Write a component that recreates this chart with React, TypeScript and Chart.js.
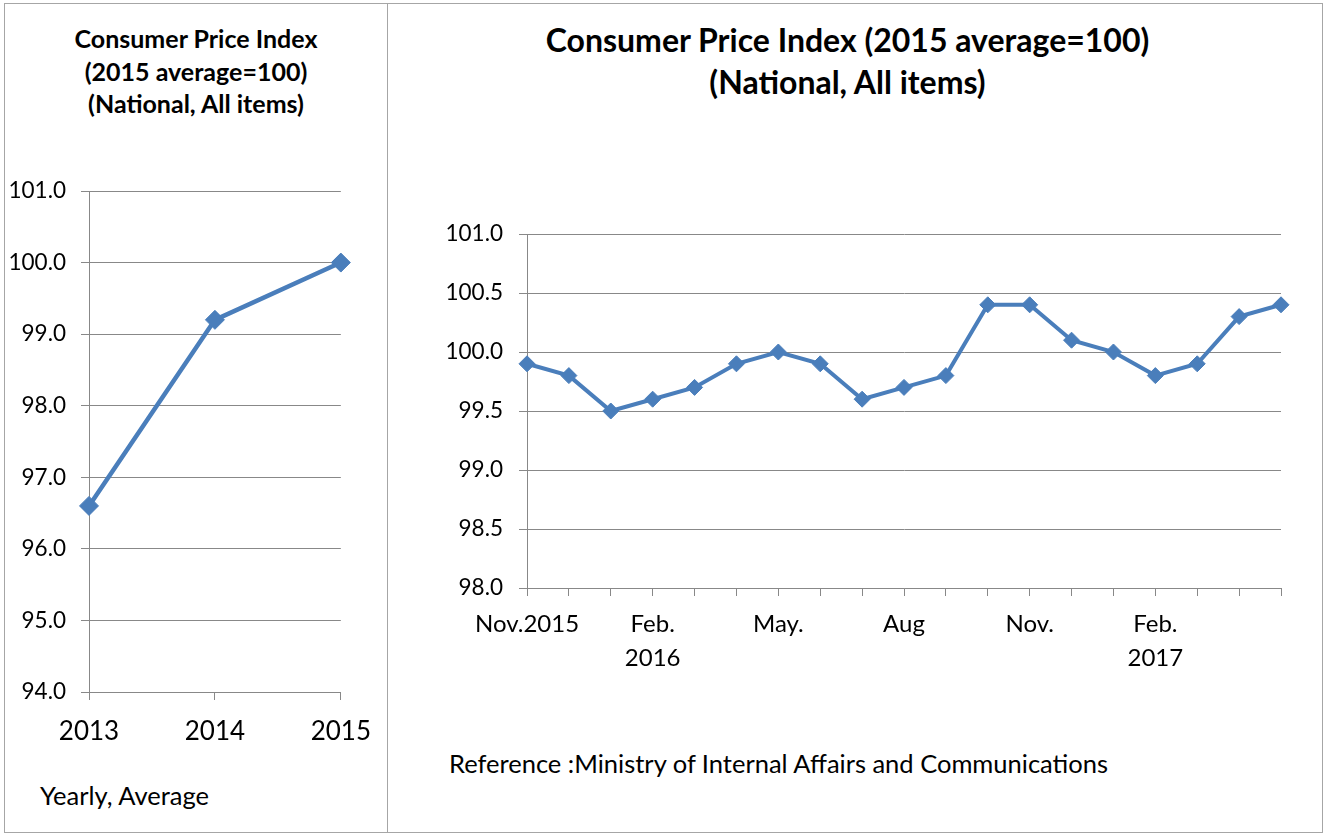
import React, { useEffect, useRef } from "react";
import { Chart, registerables } from "chart.js";

Chart.register(...registerables);

// ---- Data ----
const yearLabels: string[] = ["2013", "2014", "2015"];
const yearValues: number[] = [96.6, 99.2, 100.0];

const monthLabels: (string | string[])[] = [
  "Nov.2015", "", "", ["Feb.", "2016"], "", "", "May.", "", "", "Aug", "", "",
  "Nov.", "", "", ["Feb.", "2017"], "", "", "",
];
const monthValues: number[] = [
  99.9, 99.8, 99.5, 99.6, 99.7, 99.9, 100.0, 99.9, 99.6, 99.7, 99.8, 100.4,
  100.4, 100.1, 100.0, 99.8, 99.9, 100.3, 100.4,
];

const leftTitle = ["Consumer Price Index", "(2015 average=100)", "(National, All items)"];
const rightTitle = ["Consumer Price Index (2015 average=100)", "(National, All items)"];
const leftNote = "Yearly, Average";
const rightNote = "Reference :Ministry of Internal Affairs and Communications";

const BLUE = "#4a7ebb";
const GRID = "#888888";
const FONT = "Lato";

function LineChart(props: {
  labels: (string | string[])[];
  values: number[];
  min: number;
  max: number;
  step: number;
  width: number;
  height: number;
  yWidth: number;
  xHeight: number;
  padding: { left: number; right: number; top: number; bottom: number };
  yFont: number;
  xFont: number;
  xLine: number;
  xPad: number;
  yPad: number;
  radius: number;
  lineWidth: number;
  style: React.CSSProperties;
}) {
  const ref = useRef<HTMLCanvasElement | null>(null);
  useEffect(() => {
    if (!ref.current) return;
    const chart = new Chart(ref.current, {
      type: "line",
      data: {
        labels: props.labels as any,
        datasets: [
          {
            data: props.values,
            borderColor: BLUE,
            backgroundColor: BLUE,
            borderWidth: props.lineWidth,
            pointStyle: "rectRot",
            pointRadius: props.radius,
            pointBorderWidth: 1,
            pointBackgroundColor: BLUE,
            pointBorderColor: BLUE,
            tension: 0,
          },
        ],
      },
      options: {
        responsive: false,
        animation: false,
        layout: { padding: props.padding },
        plugins: {
          legend: { display: false },
          tooltip: { enabled: false },
          title: { display: false },
        },
        scales: {
          x: {
            type: "category",
            offset: false,
            grid: {
              display: true,
              drawOnChartArea: false,
              drawTicks: true,
              tickLength: 8,
              color: GRID,
              lineWidth: 1,
            },
            border: { color: GRID, width: 1 },
            ticks: {
              autoSkip: false,
              maxRotation: 0,
              minRotation: 0,
              color: "#000",
              padding: props.xPad,
              font: { family: FONT, size: props.xFont, lineHeight: props.xLine },
            },
            afterFit: (s: any) => {
              s.height = props.xHeight;
            },
          },
          y: {
            min: props.min,
            max: props.max,
            grid: {
              color: GRID,
              lineWidth: 1,
              drawTicks: true,
              tickLength: 8,
            },
            border: { color: GRID, width: 1 },
            ticks: {
              stepSize: props.step,
              color: "#000",
              padding: props.yPad,
              font: { family: FONT, size: props.yFont },
              callback: (v: any) => Number(v).toFixed(1),
            },
            afterFit: (s: any) => {
              s.width = props.yWidth;
            },
          },
        },
      },
    });
    return () => chart.destroy();
  }, []);
  return <canvas ref={ref} width={props.width} height={props.height} style={props.style} />;
}

export default function App() {
  const textBase: React.CSSProperties = {
    position: "absolute",
    fontFamily: FONT,
    color: "#000",
    whiteSpace: "nowrap",
  };
  return (
    <div
      style={{
        position: "fixed",
        left: 0,
        top: 0,
        width: 1325,
        height: 834,
        background: "#fff",
        overflow: "hidden",
      }}
    >
      <div
        style={{
          position: "absolute",
          left: 4,
          top: 3,
          width: 384,
          height: 830,
          border: "1px solid #a6a6a6",
          boxSizing: "border-box",
        }}
      />
      <div
        style={{
          position: "absolute",
          left: 387,
          top: 3,
          width: 936,
          height: 830,
          border: "1px solid #a6a6a6",
          boxSizing: "border-box",
        }}
      />
      <div
        style={{
          ...textBase,
          left: 4,
          width: 384,
          top: 22,
          textAlign: "center",
          fontWeight: 700,
          fontSize: 25,
          lineHeight: "32.5px",
        }}
      >
        {leftTitle.map((t, i) => (
          <div key={i}>{t}</div>
        ))}
      </div>
      <div
        style={{
          ...textBase,
          left: 547 - 300,
          width: 1201,
          top: 19,
          textAlign: "center",
          fontWeight: 700,
          fontSize: 32,
          lineHeight: "42px",
        }}
      >
        {rightTitle.map((t, i) => (
          <div key={i}>{t}</div>
        ))}
      </div>
      <div style={{ ...textBase, left: 40, top: 780, fontSize: 25.5, lineHeight: "30px" }}>{leftNote}</div>
      <div style={{ ...textBase, left: 449, top: 748, fontSize: 25.5, lineHeight: "30px" }}>{rightNote}</div>

      <LineChart
        labels={yearLabels}
        values={yearValues}
        min={94}
        max={101}
        step={1}
        width={387}
        height={834}
        yWidth={89}
        xHeight={60}
        padding={{ left: 0, right: 45, top: 191, bottom: 82 }}
        yFont={22.5}
        xFont={26}
        xLine={1.2}
        xPad={16}
        yPad={15}
        radius={9.5}
        lineWidth={4.5}
        style={{ position: "absolute", left: 0, top: 0 }}
      />
      <LineChart
        labels={monthLabels}
        values={monthValues}
        min={98}
        max={101}
        step={0.5}
        width={937}
        height={834}
        yWidth={139}
        xHeight={90}
        padding={{ left: 0, right: 44, top: 234, bottom: 156 }}
        yFont={22.5}
        xFont={24}
        xLine={1.4167}
        xPad={11}
        yPad={16}
        radius={8}
        lineWidth={4}
        style={{ position: "absolute", left: 388, top: 0 }}
      />
    </div>
  );
}
